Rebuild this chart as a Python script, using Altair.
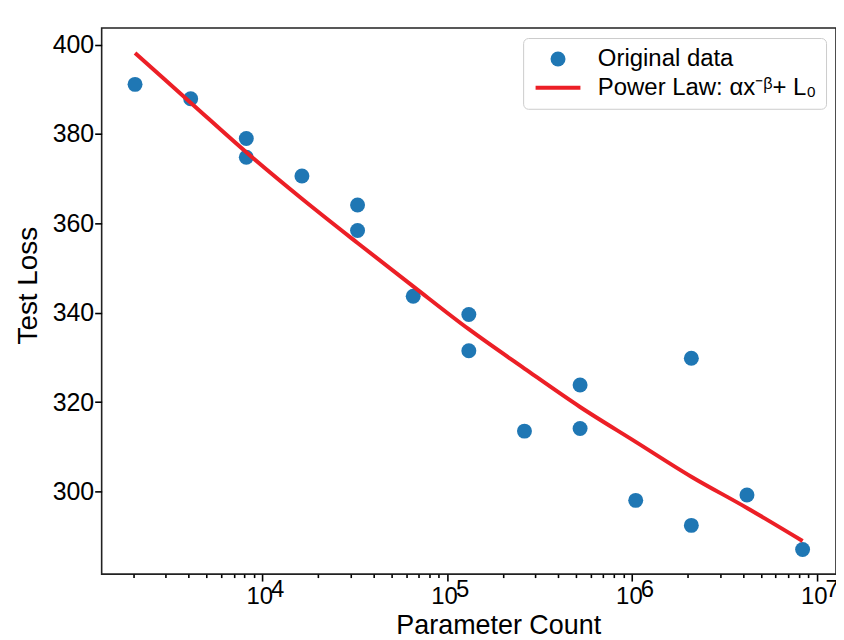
import altair as alt
import pandas as pd

# ---- data ----
params = [2048, 4096, 8192, 8192, 16384, 32768, 32768, 65536, 131072, 131072,
          262144, 524288, 524288, 1048576, 2097152, 2097152, 4194304, 8388608]
losses = [391.1, 387.9, 379.0, 374.8, 370.6, 364.1, 358.4, 343.7, 339.6, 331.5,
          313.5, 323.8, 314.1, 298.0, 329.8, 292.4, 299.2, 287.0]
fit_params = [2048, 4096, 8192, 16384, 32768, 65536, 131072, 262144, 524288,
              1048576, 2097152, 4194304, 8388608]
fit_losses = [398.1, 387.0, 375.9, 365.5, 355.6, 345.9, 336.3, 327.5, 318.9,
              311.1, 303.3, 296.3, 288.9]
series_names = ["Original data", "Power Law: αx⁻ᵝ+ L₀"]
series_colors = ["#1f77b4", "#ec1f26"]
major_ticks = [10000, 100000, 1000000, 10000000]
minor_ticks = [2000, 3000, 4000, 5000, 6000, 7000, 8000, 9000,
               20000, 30000, 40000, 50000, 60000, 70000, 80000, 90000,
               200000, 300000, 400000, 500000, 600000, 700000, 800000, 900000,
               2000000, 3000000, 4000000, 5000000, 6000000, 7000000, 8000000, 9000000]
y_ticks = [300, 320, 340, 360, 380, 400]

pts = pd.DataFrame({"params": params, "loss": losses, "series": series_names[0]})
fit = pd.DataFrame({"params": fit_params, "loss": fit_losses})

FONT = "Liberation Sans"
xscale = alt.Scale(type="log", domain=[1351, 12718000], nice=False)
yscale = alt.Scale(domain=[281.5, 403.7], nice=False, zero=False)
is_major = "indexof([10000,100000,1000000,10000000], datum.value) >= 0"

yaxis = alt.Axis(values=y_ticks, tickSize=7, tickWidth=1.6, tickColor="black",
                 labelPadding=1, labelFontSize=25, labelFont=FONT, labelColor="black",
                 domain=False, grid=False, title="Test Loss", titleFont=FONT,
                 titleFontSize=28, titleFontWeight="normal", titleColor="black",
                 titleX=-65, titleY=258, titleBaseline="alphabetic", titleAlign="center")

xaxis_a = alt.Axis(values=major_ticks + minor_ticks,
                   labelExpr=f"({is_major}) ? '10' : ''",
                   tickSize={"condition": {"test": is_major, "value": 7}, "value": 3.5},
                   tickWidth=1.6, tickColor="black", labelOverlap=False, labelFlush=False,
                   labelBaseline="alphabetic", labelPadding=23, labelOffset=-3,
                   labelFontSize=24, labelFont=FONT, labelColor="black",
                   domain=False, grid=False, title="Parameter Count", titleFont=FONT,
                   titleFontSize=27, titleFontWeight="normal", titleColor="black",
                   titleX=398, titleY=59.5, titleBaseline="alphabetic", titleAlign="center",
                   orient="bottom")

xaxis_b = alt.Axis(values=major_ticks, labelExpr="round(log(datum.value)/LN10) + ''",
                   ticks=False, tickSize=0, labelOverlap=False, labelFlush=False,
                   labelBaseline="alphabetic", labelPadding=22, labelOffset=15,
                   labelFontSize=24, labelFont=FONT, labelColor="black",
                   domain=False, grid=False, title=None, orient="bottom")

legend = alt.Legend(
    title=None, orient="top-right", offset=10, padding=9,
    fillColor="white", strokeColor="#cccccc", cornerRadius=5,
    labelFont=FONT, labelFontSize=24, labelColor="black", labelLimit=400,
    symbolSize=225, symbolOffset=14, labelOffset=28, rowPadding=1,
    symbolType={"expr": "datum.value === 'Original data' ? 'circle' : 'M-3,0L3,0'"},
    symbolStrokeColor={"expr": "datum.value === 'Original data' ? 'transparent' : '#ec1f26'"},
    symbolStrokeWidth=4,
)

points = alt.Chart(pts).mark_circle(size=225, opacity=1).encode(
    x=alt.X("params:Q", scale=xscale, axis=xaxis_a),
    y=alt.Y("loss:Q", scale=yscale, axis=yaxis),
    color=alt.Color("series:N", scale=alt.Scale(domain=series_names, range=series_colors),
                    legend=legend),
)

line = alt.Chart(fit).mark_line(strokeWidth=4, interpolate="monotone", color=series_colors[1]).encode(
    x=alt.X("params:Q", scale=xscale, axis=xaxis_b),
    y=alt.Y("loss:Q", scale=yscale, axis=yaxis),
)

chart = alt.layer(points, line).resolve_axis(x="independent").properties(
    width=737, height=548,
    autosize=alt.AutoSizeParams(type="none"),
    padding={"left": 94, "top": 19, "right": 0, "bottom": 62},
).configure(background="white").configure_view(stroke="#222222", strokeWidth=1.6)

chart.save("out.html", embed_options={"renderer": "svg", "actions": False})
